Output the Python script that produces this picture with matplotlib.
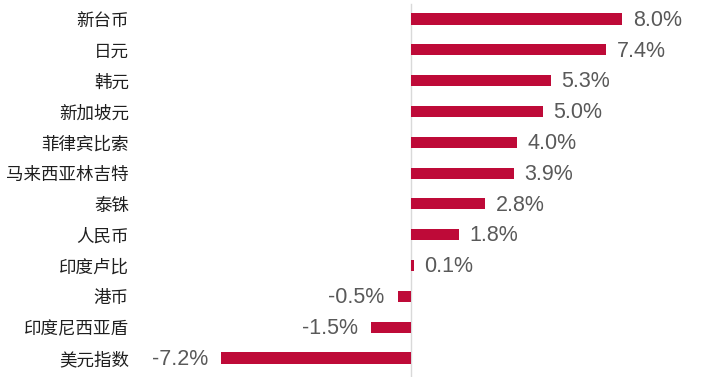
import matplotlib.pyplot as plt

plt.rcParams['font.family'] = ['Noto Sans CJK SC', 'DejaVu Sans']

currencies = ["新台币", "日元", "韩元", "新加坡元", "菲律宾比索", "马来西亚林吉特",
              "泰铢", "人民币", "印度卢比", "港币", "印度尼西亚盾", "美元指数"]
changes = [8.0, 7.4, 5.3, 5.0, 4.0, 3.9, 2.8, 1.8, 0.1, -0.5, -1.5, -7.2]

bar_color = "#BE0A38"
text_color = "#595959"

fig = plt.figure(figsize=(7.19, 3.77), dpi=100)
ax = fig.add_axes([140 / 719, 0, 1 - 140 / 719, 1])

ypos = list(range(len(currencies)))
ax.barh(ypos, changes, height=0.36, color=bar_color, zorder=2)
ax.axvline(0, ymin=0, ymax=0.99, color="#d9d9d9", lw=1, zorder=1)

for y, v in zip(ypos, changes):
    off = 0.4 if v >= 0 else -0.5
    ax.text(v + off, y + 0.04, f"{v:.1f}%", ha="left" if v >= 0 else "right",
            va="center", fontsize=15.5, color=text_color,
            family=["Liberation Sans", "DejaVu Sans"])

ax.set_xlim(-10.27, 11.67)
ax.set_ylim(11.617, -0.617)
ax.set_yticks(ypos)
ax.set_yticklabels(currencies, fontsize=12.6, color="#1f1f1f")
ax.tick_params(axis="y", length=0, pad=8)
ax.set_xticks([])
for s in ax.spines.values():
    s.set_visible(False)

fig.savefig("out.png", dpi=100)
